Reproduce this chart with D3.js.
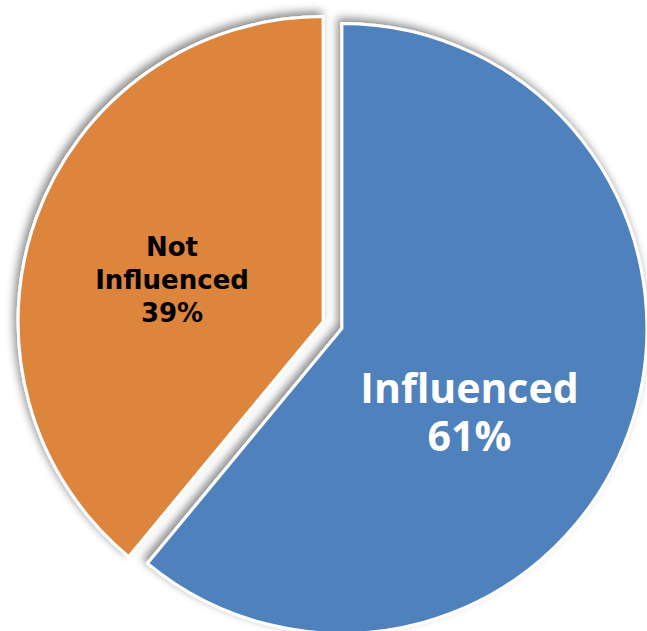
<!DOCTYPE html>
<html><head><meta charset="utf-8">
<script src="https://cdn.jsdelivr.net/npm/d3@7"></script>
<style>html,body{margin:0;padding:0;background:#fff;}svg{display:block;}</style>
</head><body>
<script>
const categories = ["Influenced", "Not Influenced"];
const values = [61, 39];
const labels = ["61%", "39%"];
const colors = ["#4F81BD", "#DD843E"];

const W = 647, H = 631;
const cx = 332.5, cy = 325, R = 305, explode = 10;

const svg = d3.select("body").append("svg").attr("width", W).attr("height", H);
const defs = svg.append("defs");
const f = defs.append("filter").attr("id", "sh").attr("x", "-20%").attr("y", "-20%").attr("width", "140%").attr("height", "140%");
f.append("feDropShadow").attr("dx", -3).attr("dy", -4).attr("stdDeviation", 4)
  .attr("flood-color", "#000").attr("flood-opacity", 0.45);

const pie = d3.pie().sort(null).value(d => d.v);
const arcs = pie(categories.map((c, i) => ({c, v: values[i], l: labels[i], col: colors[i]})));
const arc = d3.arc().innerRadius(0).outerRadius(R);

const g = svg.append("g").attr("transform", `translate(${cx},${cy})`);
const slices = g.selectAll("g.s").data(arcs).enter().append("g").attr("class", "s")
  .attr("transform", d => {
    const a = (d.startAngle + d.endAngle) / 2;
    return `translate(${explode * Math.sin(a)},${-explode * Math.cos(a)})`;
  });
slices.append("path").attr("d", arc).attr("fill", d => d.data.col)
  .attr("stroke", "#fff").attr("stroke-width", 3).attr("stroke-linejoin", "miter")
  .attr("filter", "url(#sh)");

// label layout (position offsets from pie center, per slice)
const labelLayout = [
  {x: 137, lines: [{dy: 78, size: 41, t: d => d.data.c}, {dy: 126, size: 41, t: d => d.data.l}], fill: "#fff", font: "'Open Sans', sans-serif", weight: 700},
  {x: -160.5, lines: [{dy: -69, size: 26, t: d => "Not"}, {dy: -36, size: 26, t: d => "Influenced"}, {dy: -3, size: 26, t: d => d.data.l}], fill: "#000", font: "'DejaVu Sans', sans-serif", weight: 700}
];
arcs.forEach((d, i) => {
  const L = labelLayout[i];
  L.lines.forEach(ln => {
    g.append("text").attr("text-anchor", "middle").attr("fill", L.fill)
      .attr("font-family", L.font).attr("font-weight", L.weight)
      .attr("x", L.x).attr("y", ln.dy).attr("font-size", ln.size).text(ln.t(d));
  });
});
</script>
</body></html>
